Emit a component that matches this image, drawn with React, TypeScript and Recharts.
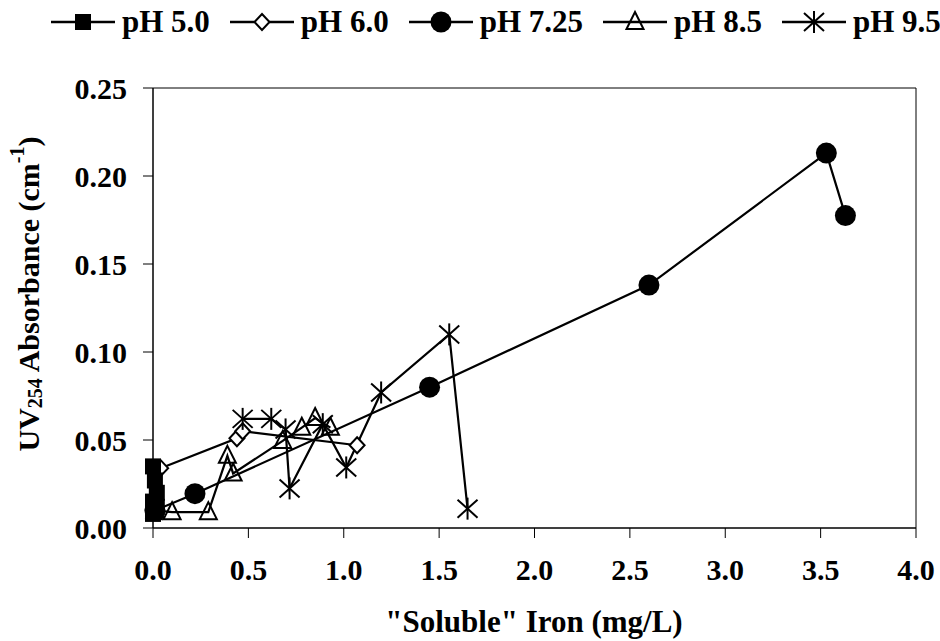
import React from 'react'
import { LineChart, Line, XAxis, YAxis, Legend, ReferenceArea } from 'recharts'

// UV254 absorbance vs "soluble" iron, one connected series per pH.
// Black & white Excel-style markers, drawn by hand below.

const FONT = '"Liberation Serif", "Times New Roman", serif'

const xTicks = [0, 0.5, 1, 1.5, 2, 2.5, 3, 3.5, 4]
const yTicks = [0, 0.05, 0.1, 0.15, 0.2, 0.25]

const ph50X = [0.0, 0.01, 0.02, 0.0, 0.02, 0.01, 0.0]
const ph50Y = [0.035, 0.027, 0.02, 0.015, 0.012, 0.009, 0.008]

const ph60X = [0.04, 0.44, 0.47, 1.07]
const ph60Y = [0.034, 0.051, 0.055, 0.047]

const ph725X = [0.01, 0.22, 1.45, 2.6, 3.53, 3.63]
const ph725Y = [0.01, 0.0195, 0.08, 0.138, 0.213, 0.1775]

const ph85X = [0.01, 0.1, 0.29, 0.39, 0.42, 0.68, 0.78, 0.85, 0.93]
const ph85Y = [0.01, 0.009, 0.009, 0.041, 0.031, 0.0495, 0.057, 0.0625, 0.057]

const ph95X = [0.47, 0.62, 0.695, 0.716, 0.89, 1.013, 1.196, 1.553, 1.649]
const ph95Y = [0.062, 0.062, 0.056, 0.0225, 0.059, 0.0344, 0.077, 0.11, 0.011]

const zip = (xs: number[], ys: number[]) => xs.map((x, i) => ({ x, y: ys[i] }))

type Shape = 'square' | 'diamond' | 'circle' | 'triangle' | 'star'

const SERIES: Array<{ name: string; shape: Shape; data: { x: number; y: number }[] }> = [
  { name: 'pH 5.0', shape: 'square', data: zip(ph50X, ph50Y) },
  { name: 'pH 6.0', shape: 'diamond', data: zip(ph60X, ph60Y) },
  { name: 'pH 7.25', shape: 'circle', data: zip(ph725X, ph725Y) },
  { name: 'pH 8.5', shape: 'triangle', data: zip(ph85X, ph85Y) },
  { name: 'pH 9.5', shape: 'star', data: zip(ph95X, ph95Y) },
]

// squares sit on top of the cluster at the origin, so draw pH 5.0 last
const DRAW_ORDER = [1, 2, 3, 4, 0]

function Marker({ shape, cx, cy }: { shape: Shape; cx: number; cy: number }) {
  const sw = 2
  switch (shape) {
    case 'square':
      return <rect x={cx - 8} y={cy - 8} width={16} height={16} fill="#000" />
    case 'diamond':
      return (
        <polygon
          points={`${cx},${cy - 8} ${cx + 7.5},${cy} ${cx},${cy + 8} ${cx - 7.5},${cy}`}
          fill="#fff"
          stroke="#000"
          strokeWidth={sw}
        />
      )
    case 'circle':
      return <circle cx={cx} cy={cy} r={10.5} fill="#000" />
    case 'triangle':
      return (
        <polygon
          points={`${cx},${cy - 10} ${cx + 8.5},${cy + 7} ${cx - 8.5},${cy + 7}`}
          fill="none"
          stroke="#000"
          strokeWidth={sw}
        />
      )
    case 'star':
      return (
        <g stroke="#000" strokeWidth={sw}>
          <line x1={cx} y1={cy - 11} x2={cx} y2={cy + 11} />
          <line x1={cx - 10} y1={cy - 9} x2={cx + 10} y2={cy + 9} />
          <line x1={cx - 10} y1={cy + 9} x2={cx + 10} y2={cy - 9} />
        </g>
      )
  }
}

function LegendRow() {
  return (
    <div
      style={{
        display: 'flex',
        flexWrap: 'nowrap',
        alignItems: 'center',
        gap: 20,
        whiteSpace: 'nowrap',
        fontFamily: FONT,
        fontWeight: 'bold',
        fontSize: 31,
        lineHeight: '36px',
        color: '#000',
      }}
    >
      {SERIES.map((s) => (
        <div key={s.name} style={{ display: 'flex', alignItems: 'center' }}>
          <svg width={64} height={26}>
            <line x1={0} y1={13} x2={64} y2={13} stroke="#000" strokeWidth={2.5} />
            <Marker shape={s.shape} cx={32} cy={13} />
          </svg>
          <span style={{ marginLeft: 7 }}>{s.name}</span>
        </div>
      ))}
    </div>
  )
}

function YTitle() {
  return (
    <text
      x={28}
      y={294}
      transform="rotate(-90, 28, 294)"
      textAnchor="middle"
      dominantBaseline="central"
      fontFamily={FONT}
      fontWeight="bold"
      fontSize={30}
      fill="#000"
    >
      UV
      <tspan fontSize={20} dy={7}>254</tspan>
      <tspan dy={-7}> Absorbance (cm</tspan>
      <tspan fontSize={20} dy={-11}>-1</tspan>
      <tspan dy={11}>)</tspan>
    </text>
  )
}

function XTitle() {
  return (
    <text
      x={534}
      y={621}
      textAnchor="middle"
      dominantBaseline="central"
      fontFamily={FONT}
      fontWeight="bold"
      fontSize={31}
      fill="#000"
    >
      "Soluble" Iron (mg/L)
    </text>
  )
}

const tickStyle = { fill: '#000', fontSize: 30, fontWeight: 'bold', fontFamily: FONT }

export default function App() {
  return (
    <div style={{ position: 'absolute', left: 0, top: 0, width: 940, height: 641, background: '#fff', overflow: 'hidden' }}>
      <LineChart width={940} height={641} margin={{ top: 88, right: 24, left: 0, bottom: 0 }}>
        <XAxis
          type="number"
          dataKey="x"
          domain={[0, 4]}
          ticks={xTicks}
          tickFormatter={(v: number) => v.toFixed(1)}
          tick={tickStyle}
          tickSize={10}
          tickMargin={21}
          height={113}
          stroke="#000"
          allowDuplicatedCategory={false}
          label={<XTitle />}
        />
        <YAxis
          type="number"
          dataKey="y"
          domain={[0, 0.25]}
          ticks={yTicks}
          tickFormatter={(v: number) => v.toFixed(2)}
          tick={tickStyle}
          tickSize={10}
          tickMargin={16}
          width={153}
          stroke="#000"
          label={<YTitle />}
        />
        <ReferenceArea x1={0} x2={4} y1={0} y2={0.25} fill="none" stroke="#000" strokeWidth={1} strokeOpacity={1} />
        <Legend
          layout="horizontal"
          verticalAlign="middle"
          align="center"
          width={1000}
          wrapperStyle={{ top: 4, left: 51, width: 1000 }}
          content={() => <LegendRow />}
        />
        {DRAW_ORDER.map((i) => {
          const s = SERIES[i]
          return (
            <Line
              key={s.name}
              name={s.name}
              data={s.data}
              dataKey="y"
              stroke="#000"
              strokeWidth={2.2}
              isAnimationActive={false}
              legendType="none"
              dot={(p: any) => <Marker key={`${s.name}-${p.index}`} shape={s.shape} cx={p.cx} cy={p.cy} />}
              activeDot={false}
            />
          )
        })}
      </LineChart>
    </div>
  )
}
